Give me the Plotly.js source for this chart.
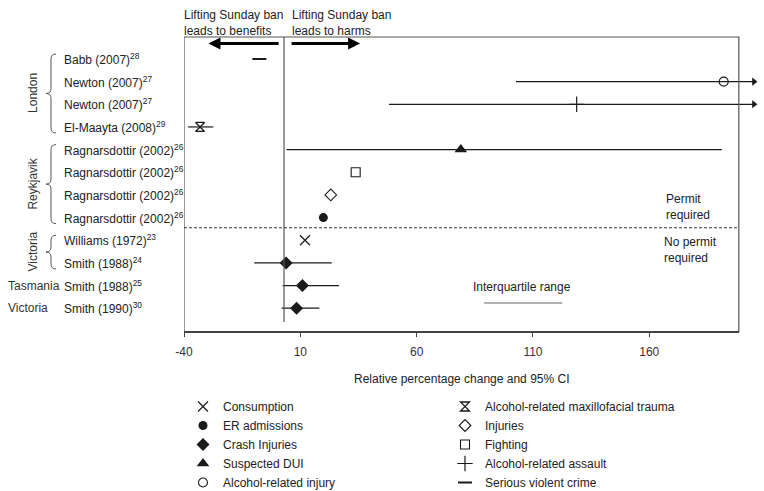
<!DOCTYPE html>
<html>
<head>
<meta charset="utf-8">
<script src="https://cdn.plot.ly/plotly-3.0.1.min.js"></script>
<style>html,body{margin:0;padding:0;background:#fff}#chart{width:764px;height:491px}</style>
</head>
<body>
<div id="chart"></div>
<script>
// ---- data ----
const studies = [
  'Babb (2007)<sup>28</sup>',
  'Newton (2007)<sup>27</sup>',
  'Newton (2007)<sup>27</sup>',
  'El-Maayta (2008)<sup>29</sup>',
  'Ragnarsdottir (2002)<sup>26</sup>',
  'Ragnarsdottir (2002)<sup>26</sup>',
  'Ragnarsdottir (2002)<sup>26</sup>',
  'Ragnarsdottir (2002)<sup>26</sup>',
  'Williams (1972)<sup>23</sup>',
  'Smith (1988)<sup>24</sup>',
  'Smith (1988)<sup>25</sup>',
  'Smith (1990)<sup>30</sup>'
];
const outcomes = [
  'Serious violent crime',
  'Alcohol-related injury',
  'Alcohol-related assault',
  'Alcohol-related maxillofacial trauma',
  'Suspected DUI',
  'Fighting',
  'Injuries',
  'ER admissions',
  'Consumption',
  'Crash Injuries',
  'Crash Injuries',
  'Crash Injuries'
];
const estimates = [-7.6, 192, 128.8, -33.1, 79, 33.8, 23.1, 19.9, 12.0, 3.9, 10.9, 8.4];
const ciLow     = [null, 102.7, 48.1, -38.2, 4.1, null, null, null, null, -9.8, 2.4, 2.0];
const ciHigh    = [null, 205, 205, -27.4, 191.2, null, null, null, null, 23.5, 26.6, 18.2];
const ciOpenEnded = [false, true, true, false, false, false, false, false, false, false, false, false];
const groups = [
  {name: 'London', first: 0, last: 3, rotated: true},
  {name: 'Reykjavik', first: 4, last: 7, rotated: true},
  {name: 'Victoria', first: 8, last: 9, rotated: true},
  {name: 'Tasmania', first: 10, last: 10, rotated: false},
  {name: 'Victoria', first: 11, last: 11, rotated: false}
];
const tickValues = [-40, 10, 60, 110, 160];
const tickLabels = ['-40', '10', '60', '110', '160'];
const referenceLine = 3;
const interquartileRange = [89, 122.6];
const legendColumn1 = ['Consumption', 'ER admissions', 'Crash Injuries', 'Suspected DUI', 'Alcohol-related injury'];
const legendColumn2 = ['Alcohol-related maxillofacial trauma', 'Injuries', 'Fighting', 'Alcohol-related assault', 'Serious violent crime'];

// ---- styles ----
const ink = '#1a1a1a';
const symbolStyles = {
  'Consumption': {symbol: 'x-thin-open', size: 10, line: {width: 1.2, color: '#333'}},
  'Alcohol-related maxillofacial trauma': {symbol: 'hourglass-open', size: 9, line: {width: 1.3, color: ink}},
  'ER admissions': {symbol: 'circle', size: 9, color: ink},
  'Injuries': {symbol: 'diamond-open', size: 9, line: {width: 1.1, color: ink}},
  'Crash Injuries': {symbol: 'diamond', size: 10, color: ink},
  'Fighting': {symbol: 'square-open', size: 9, line: {width: 1.1, color: ink}},
  'Suspected DUI': {symbol: 'triangle-up', size: 11, color: ink},
  'Alcohol-related assault': {symbol: 'cross-thin-open', size: 11, line: {width: 1.2, color: '#333'}},
  'Alcohol-related injury': {symbol: 'circle-open', size: 9, line: {width: 1.1, color: ink}},
  'Serious violent crime': {symbol: 'line-ew-open', size: 10, line: {width: 2, color: ink}}
};

const W = 764, H = 491;
const px = v => v / W;
const py = v => 1 - v / H;
const rows = studies.map((_, i) => i);

// ---- traces ----
const traces = [];
const ciX = [], ciY = [];
rows.forEach(i => {
  if (ciLow[i] !== null) { ciX.push(ciLow[i], ciHigh[i], null); ciY.push(i, i, null); }
});
traces.push({x: ciX, y: ciY, mode: 'lines', line: {color: ink, width: 1.2}, showlegend: false, hoverinfo: 'skip'});
const arrowX = [], arrowY = [];
rows.forEach(i => { if (ciOpenEnded[i]) { arrowX.push(ciHigh[i]); arrowY.push(i); } });
traces.push({x: arrowX, y: arrowY, mode: 'markers', marker: {symbol: 'triangle-right', size: 7, color: ink}, showlegend: false, hoverinfo: 'skip', cliponaxis: false});

[[legendColumn1, 'legend'], [legendColumn2, 'legend2']].forEach(([names, lg]) => {
  names.forEach(name => {
    const idx = rows.filter(i => outcomes[i] === name);
    traces.push({
      name: name,
      legend: lg,
      x: idx.map(i => estimates[i]),
      y: idx.map(i => i),
      mode: 'markers',
      marker: Object.assign({color: ink}, symbolStyles[name]),
      cliponaxis: false
    });
  });
});

// ---- annotations ----
const font = {family: 'Liberation Sans, Arial, sans-serif', size: 12, color: '#222'};
const annotations = [];
rows.forEach(i => {
  annotations.push({xref: 'paper', yref: 'y', x: px(62), y: i, xanchor: 'left', yanchor: 'middle', text: studies[i], showarrow: false, font: font});
});
groups.forEach(g => {
  const mid = (g.first + g.last) / 2;
  if (g.rotated) {
    annotations.push({xref: 'paper', yref: 'y', x: px(33), y: mid, xanchor: 'center', yanchor: 'middle', text: g.name, textangle: -90, showarrow: false, font: Object.assign({}, font, {color: '#333'})});
  } else {
    annotations.push({xref: 'paper', yref: 'y', x: px(6), y: mid, xanchor: 'left', yanchor: 'middle', text: g.name, showarrow: false, font: Object.assign({}, font, {color: '#333'})});
  }
});
annotations.push(
  {xref: 'paper', yref: 'paper', x: px(182), y: py(22.5), xanchor: 'left', yanchor: 'middle', align: 'left', text: 'Lifting Sunday ban<br>leads to benefits', showarrow: false, font: font},
  {xref: 'paper', yref: 'paper', x: px(290), y: py(22.5), xanchor: 'left', yanchor: 'middle', align: 'left', text: 'Lifting Sunday ban<br>leads to harms', showarrow: false, font: font},
  {xref: 'x', yref: 'paper', x: -29.5, y: py(43.5), axref: 'x', ayref: 'pixel', ax: 1.3, ay: 0, text: '', showarrow: true, arrowhead: 2, arrowsize: 0.8, arrowwidth: 3, arrowcolor: '#000'},
  {xref: 'x', yref: 'paper', x: 35.7, y: py(43.5), axref: 'x', ayref: 'pixel', ax: 5.6, ay: 0, text: '', showarrow: true, arrowhead: 2, arrowsize: 0.8, arrowwidth: 3, arrowcolor: '#000'},
  {xref: 'paper', yref: 'paper', x: px(664), y: py(207), xanchor: 'left', yanchor: 'middle', align: 'left', text: 'Permit<br>required', showarrow: false, font: font},
  {xref: 'paper', yref: 'paper', x: px(662), y: py(250), xanchor: 'left', yanchor: 'middle', align: 'left', text: 'No permit<br>required', showarrow: false, font: font},
  {xref: 'paper', yref: 'paper', x: px(522), y: py(287), xanchor: 'center', yanchor: 'middle', text: 'Interquartile range', showarrow: false, font: font},
  {xref: 'paper', yref: 'paper', x: px(461.5), y: py(379), xanchor: 'center', yanchor: 'middle', text: 'Relative percentage change and 95% CI', showarrow: false, font: font}
);

// ---- shapes ----
function brace(top, bottom, xr) {
  const mid = (top + bottom) / 2, r = 5;
  const P = (x, y) => px(x).toFixed(5) + ',' + py(y).toFixed(5);
  return 'M ' + P(xr + r, top) + ' Q ' + P(xr, top) + ' ' + P(xr, top + r) +
    ' L ' + P(xr, mid - r) + ' Q ' + P(xr, mid) + ' ' + P(xr - r, mid) +
    ' Q ' + P(xr, mid) + ' ' + P(xr, mid + r) +
    ' L ' + P(xr, bottom - r) + ' Q ' + P(xr, bottom) + ' ' + P(xr + r, bottom);
}
const rowPx = i => 59 + 22.66 * i;
const shapes = [
  {type: 'rect', xref: 'x', yref: 'y domain', x0: -40, x1: 198.5, y0: 0, y1: 1, line: {color: '#555', width: 1.2}},
  {type: 'line', xref: 'x', yref: 'y domain', x0: -40, x1: 198.5, y0: 0, y1: 0, line: {color: '#222', width: 1.3}},
  {type: 'line', xref: 'x', yref: 'y domain', x0: referenceLine, x1: referenceLine, y0: 0.034, y1: 1, line: {color: '#555', width: 1.2}},
  {type: 'line', xref: 'x', yref: 'y', x0: -40, x1: 198.5, y0: 7.45, y1: 7.45, line: {color: '#333', width: 1, dash: '3px,2px'}},
  {type: 'line', xref: 'x', yref: 'paper', x0: interquartileRange[0], x1: interquartileRange[1], y0: py(303), y1: py(303), line: {color: '#666', width: 1.2}}
];
groups.filter(g => g.rotated).forEach(g => {
  shapes.push({type: 'path', xref: 'paper', yref: 'paper', path: brace(rowPx(g.first) - 5, rowPx(g.last) + 6, 51), line: {color: '#555', width: 1}});
});

const legendBase = {
  orientation: 'v', xanchor: 'left', yanchor: 'top', itemwidth: 30,
  font: {family: font.family, size: 12, color: '#222'}, bgcolor: 'rgba(0,0,0,0)', tracegroupgap: 0
};

const layout = {
  width: W, height: H,
  margin: {l: 0, r: 0, t: 0, b: 0, autoexpand: false},
  paper_bgcolor: '#fff', plot_bgcolor: 'rgba(0,0,0,0)',
  font: font,
  xaxis: {
    domain: [px(184), px(760)], range: [-40, 207.6],
    tickvals: tickValues, ticktext: tickLabels,
    ticks: 'outside', ticklen: 4, tickcolor: '#444', tickwidth: 1,
    showline: false, zeroline: false, showgrid: false,
    tickfont: {family: font.family, size: 12, color: '#333'},
    ticklabelstandoff: 5
  },
  yaxis: {
    domain: [py(332), py(37)], range: [12.05, -0.97],
    showticklabels: false, showgrid: false, zeroline: false, showline: false, ticks: ''
  },
  showlegend: true,
  legend: Object.assign({}, legendBase, {x: px(183), y: py(392)}),
  legend2: Object.assign({}, legendBase, {x: px(445), y: py(392)}),
  annotations: annotations,
  shapes: shapes
};

Plotly.newPlot('chart', traces, layout, {staticPlot: true, displayModeBar: false});
</script>
</body>
</html>
